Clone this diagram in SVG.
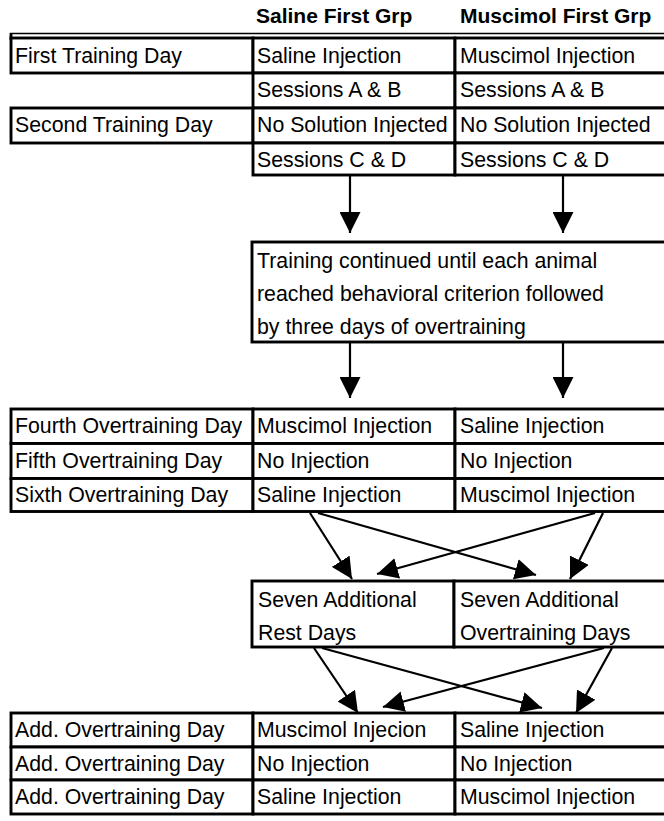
<svg xmlns="http://www.w3.org/2000/svg" width="664" height="821" viewBox="0 0 664 821">
<defs>
<style>
text{font-family:"Liberation Sans",Arial,sans-serif;font-size:21.3px;fill:#000}
.h{font-weight:bold;font-size:21px}
.c{fill:#fff;stroke:#000;stroke-width:2.9}
.ln{stroke:#000;stroke-width:2.2;fill:none}
.thin{stroke:#000;stroke-width:1.5}
</style>
<marker id="ah" viewBox="0 0 21 21" refX="21" refY="10.5" markerWidth="21" markerHeight="21" markerUnits="userSpaceOnUse" orient="auto">
<path d="M0,0 L21,10.5 L0,21 z" fill="#000"/>
</marker>
</defs>
<rect width="664" height="821" fill="#fff"/>

<g id="header">
<text class="h" x="256" y="23">Saline First Grp</text>
<text class="h" x="460" y="23">Muscimol First Grp</text>
</g>

<g id="table1">
<line class="thin" x1="10" y1="33.5" x2="664" y2="33.5"/>
<line class="c" x1="11" y1="33" x2="11" y2="40"/>
<g id="r1">
<rect class="c" x="11" y="38" width="242" height="35"/>
<rect class="c" x="253" y="38" width="202" height="35"/>
<rect class="c" x="455" y="38" width="212" height="35"/>
<text x="15" y="63">First Training Day</text>
<text x="257" y="63">Saline Injection</text>
<text x="460" y="63">Muscimol Injection</text>
</g>
<g id="r2">
<rect class="c" x="253" y="73" width="202" height="35"/>
<rect class="c" x="455" y="73" width="212" height="35"/>
<text x="257" y="97">Sessions A &amp; B</text>
<text x="460" y="97">Sessions A &amp; B</text>
</g>
<g id="r3">
<rect class="c" x="11" y="108" width="242" height="35"/>
<rect class="c" x="253" y="108" width="202" height="35"/>
<rect class="c" x="455" y="108" width="212" height="35"/>
<text x="15" y="132">Second Training Day</text>
<text x="257" y="132">No Solution Injected</text>
<text x="460" y="132">No Solution Injected</text>
</g>
<g id="r4">
<rect class="c" x="253" y="143" width="202" height="32"/>
<rect class="c" x="455" y="143" width="212" height="32"/>
<text x="257" y="167">Sessions C &amp; D</text>
<text x="460" y="167">Sessions C &amp; D</text>
</g>
</g>

<g id="training">
<rect class="c" x="252" y="242" width="415" height="100"/>
<text x="257" y="268">Training continued until each animal</text>
<text x="257" y="301">reached behavioral criterion followed</text>
<text x="257" y="334">by three days of overtraining</text>
</g>

<g id="table2">
<g id="r5">
<rect class="c" x="11" y="409" width="242" height="34.5"/>
<rect class="c" x="253" y="409" width="202" height="34.5"/>
<rect class="c" x="455" y="409" width="212" height="34.5"/>
<text x="15" y="433">Fourth Overtraining Day</text>
<text x="257" y="433">Muscimol Injection</text>
<text x="460" y="433">Saline Injection</text>
</g>
<g id="r6">
<rect class="c" x="11" y="443.5" width="242" height="35"/>
<rect class="c" x="253" y="443.5" width="202" height="35"/>
<rect class="c" x="455" y="443.5" width="212" height="35"/>
<text x="15" y="468">Fifth Overtraining Day</text>
<text x="257" y="468">No Injection</text>
<text x="460" y="468">No Injection</text>
</g>
<g id="r7">
<rect class="c" x="11" y="478.5" width="242" height="33"/>
<rect class="c" x="253" y="478.5" width="202" height="33"/>
<rect class="c" x="455" y="478.5" width="212" height="33"/>
<text x="15" y="502">Sixth Overtraining Day</text>
<text x="257" y="502">Saline Injection</text>
<text x="460" y="502">Muscimol Injection</text>
</g>
</g>

<g id="seven">
<rect class="c" x="252" y="581" width="202" height="66"/>
<rect class="c" x="454" y="581" width="213" height="66"/>
<text x="258" y="607">Seven Additional</text>
<text x="258" y="640">Rest Days</text>
<text x="460" y="607">Seven Additional</text>
<text x="460" y="640">Overtraining Days</text>
</g>

<g id="table3">
<g id="r8">
<rect class="c" x="11" y="713" width="242" height="34"/>
<rect class="c" x="253" y="713" width="202" height="34"/>
<rect class="c" x="455" y="713" width="212" height="34"/>
<text x="15" y="737">Add. Overtraining Day</text>
<text x="257" y="737">Muscimol Injecion</text>
<text x="460" y="737">Saline Injection</text>
</g>
<g id="r9">
<rect class="c" x="11" y="747" width="242" height="33"/>
<rect class="c" x="253" y="747" width="202" height="33"/>
<rect class="c" x="455" y="747" width="212" height="33"/>
<text x="15" y="771">Add. Overtraining Day</text>
<text x="257" y="771">No Injection</text>
<text x="460" y="771">No Injection</text>
</g>
<g id="r10">
<rect class="c" x="11" y="780" width="242" height="34"/>
<rect class="c" x="253" y="780" width="202" height="34"/>
<rect class="c" x="455" y="780" width="212" height="34"/>
<text x="15" y="804">Add. Overtraining Day</text>
<text x="257" y="804">Saline Injection</text>
<text x="460" y="804">Muscimol Injection</text>
</g>
</g>

<g id="connectors">
<line class="ln" x1="350" y1="176" x2="350" y2="233" marker-end="url(#ah)"/>
<line class="ln" x1="563" y1="176" x2="563" y2="233" marker-end="url(#ah)"/>
<line class="ln" x1="350" y1="343" x2="350" y2="398" marker-end="url(#ah)"/>
<line class="ln" x1="563" y1="343" x2="563" y2="398" marker-end="url(#ah)"/>
<line class="ln" x1="310" y1="513" x2="352" y2="579" marker-end="url(#ah)"/>
<line class="ln" x1="318" y1="513" x2="536" y2="575" marker-end="url(#ah)"/>
<line class="ln" x1="603" y1="513" x2="570" y2="579" marker-end="url(#ah)"/>
<line class="ln" x1="595" y1="513" x2="377" y2="574" marker-end="url(#ah)"/>
<line class="ln" x1="314" y1="648" x2="358" y2="713" marker-end="url(#ah)"/>
<line class="ln" x1="322" y1="648" x2="542" y2="708" marker-end="url(#ah)"/>
<line class="ln" x1="612" y1="648" x2="576" y2="713" marker-end="url(#ah)"/>
<line class="ln" x1="604" y1="648" x2="383" y2="707" marker-end="url(#ah)"/>
</g>
</svg>
